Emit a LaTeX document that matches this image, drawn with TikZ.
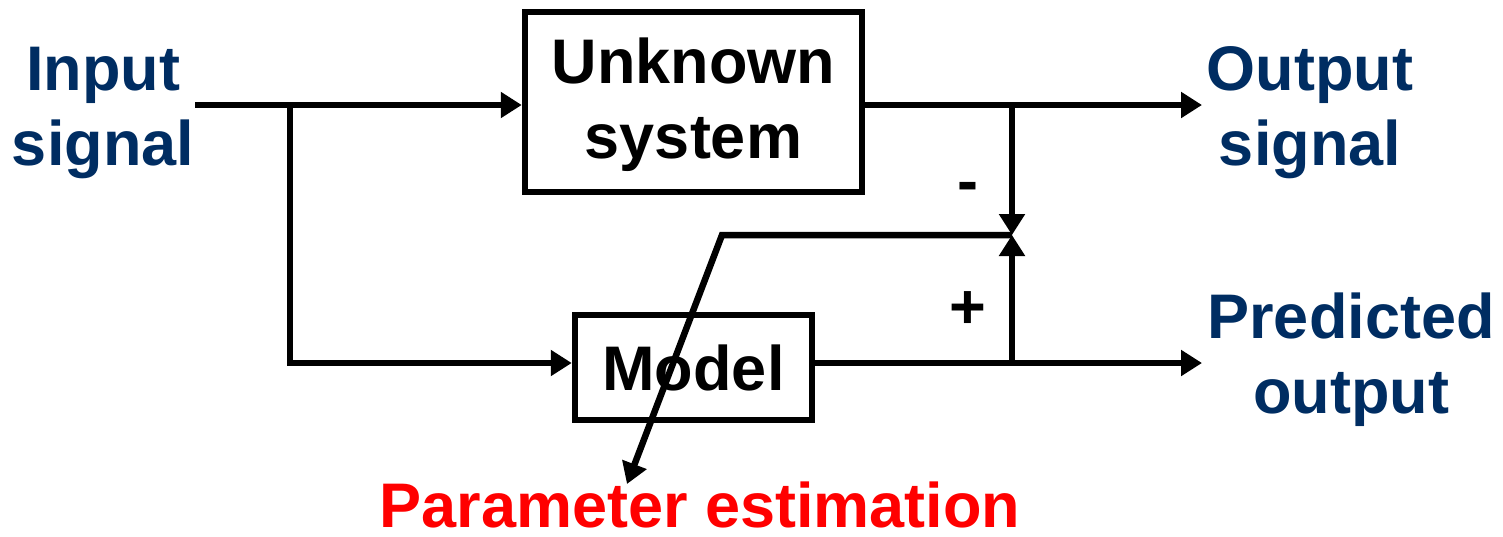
\documentclass[tikz,border=0pt]{standalone}
\usepackage{fontspec}
\setmainfont{Liberation Sans}
\usetikzlibrary{arrows.meta}
\definecolor{navy}{HTML}{002D62}
\definecolor{pred}{HTML}{FF0000}
\tikzset{
  lbl/.style={font=\fontsize{63}{75}\selectfont\bfseries, align=center, inner sep=0pt},
  blockbox/.style={draw, line width=6.5pt, inner sep=0pt},
  wire/.style={line width=6.5pt},
  arr/.style={wire, -{Triangle[length=21pt,width=25pt]}}
}
\begin{document}
\begin{tikzpicture}[x=1pt,y=-1pt]
\useasboundingbox (0,0) rectangle (1503,536);
% blocks
\node[blockbox, minimum width=337pt, minimum height=180pt] (unk) at (693.5,102) {};
\node[lbl] (unkT) at (693.5,105) {Unknown\\system};
\node[blockbox, lbl, minimum width=237pt, minimum height=105pt] (model) at (693.5,367.5) {Model};
% labels
\node[lbl, text=navy] (in) at (103,113) {Input\\signal};
\node[lbl, text=navy] (out) at (1310,113) {Output\\signal};
\node[lbl, text=navy] (pred) at (1351,360) {Predicted\\output};
\node[lbl, text=pred] (pe) at (700,505) {Parameter estimation};
\node[lbl] (minus) at (968,192) {-};
\node[lbl] (plus) at (968,310) {+};
% coordinates
\coordinate (inR) at (195,105);
\coordinate (br) at (290,105);
\coordinate (brB) at (290,363);
\coordinate (outT) at (1202,105);
\coordinate (predT) at (1202,363);
\coordinate (j) at (1012,235);
\coordinate (jt) at (1012,105);
\coordinate (jb) at (1012,363);
\coordinate (pk) at (722,235);
\coordinate (peT) at (627,484);
% connectors
\draw[arr] (inR) -- (inR -| unk.west);
\draw[arr] (br) -- (brB) -- (brB -| model.west);
\draw[arr] (jt -| unk.east) -- (outT);
\draw[arr] (jb -| model.east) -- (predT);
\draw[arr] (jt) -- (j);
\draw[arr] (jb) -- (j);
\draw[arr] (j) -- (pk) -- (peT);
\end{tikzpicture}
\end{document}
